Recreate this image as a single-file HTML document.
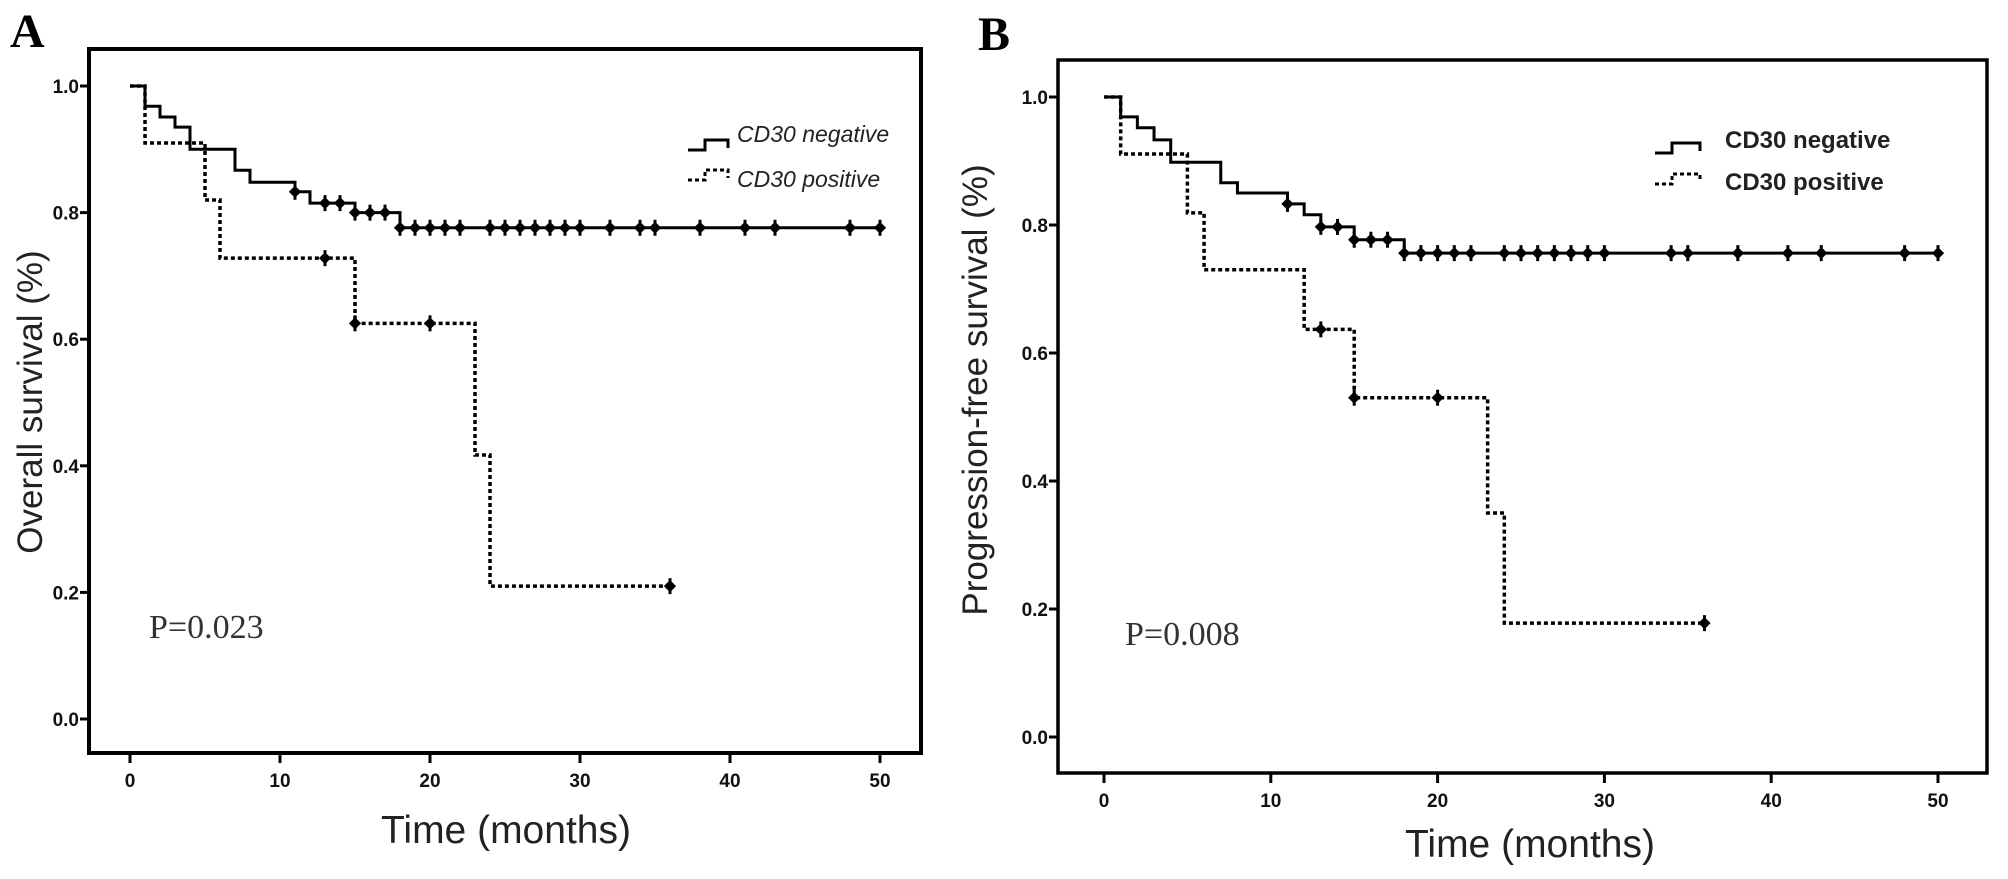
<!DOCTYPE html>
<html><head><meta charset="utf-8"><style>
html,body{margin:0;padding:0;background:#fff;}
svg{display:block;}
</style></head><body>
<svg id="fig" width="2008" height="879" viewBox="0 0 2008 879" xmlns="http://www.w3.org/2000/svg">
<rect x="0" y="0" width="2008" height="879" fill="#fff"/>
</svg>
<script>
// ---- Panel A data (Overall survival) ----
const aNegTimes = [0,1,2,3,4,7,8,11,12,15,18,50];
const aNegSurv  = [1.0,0.968,0.951,0.935,0.9,0.867,0.848,0.833,0.815,0.8,0.776,0.776];
const aNegCens  = [11,13,14,15,16,17,18,19,20,21,22,24,25,26,27,28,29,30,32,34,35,38,41,43,48,50];
const aPosTimes = [0,1,5,6,15,23,24,36];
const aPosSurv  = [1.0,0.91,0.82,0.728,0.625,0.417,0.21,0.21];
const aPosCens  = [13,15,20,36];
// ---- Panel B data (Progression-free survival) ----
const bNegTimes = [0,1,2,3,4,7,8,11,12,13,15,18,50];
const bNegSurv  = [1.0,0.969,0.952,0.933,0.898,0.866,0.85,0.833,0.816,0.797,0.777,0.756,0.756];
const bNegCens  = [11,13,14,15,16,17,18,19,20,21,22,24,25,26,27,28,29,30,34,35,38,41,43,48,50];
const bPosTimes = [0,1,5,6,12,15,23,24,36];
const bPosSurv  = [1.0,0.911,0.819,0.73,0.637,0.53,0.35,0.178,0.178];
const bPosCens  = [13,15,20,36];
const xTicks = [0,10,20,30,40,50];
const yTicks = [0,0.2,0.4,0.6,0.8,1.0];
const yTickLabels = ["0.0","0.2","0.4","0.6","0.8","1.0"];

const NS="http://www.w3.org/2000/svg";
const svg=document.getElementById('fig');
function mk(tag,attrs,parent){const e=document.createElementNS(NS,tag);for(const k in attrs)e.setAttribute(k,attrs[k]);(parent||svg).appendChild(e);return e;}
function txt(s,attrs,parent){const t=mk('text',attrs,parent);t.textContent=s;return t;}

function stepPath(xs,ys,X,Y){
  let d='M'+X(xs[0])+','+Y(ys[0]);
  for(let i=1;i<xs.length;i++){d+=' H'+X(xs[i])+' V'+Y(ys[i]);}
  return d;
}
function survAt(xs,ys,t){let v=ys[0];for(let i=0;i<xs.length;i++){if(xs[i]<=t)v=ys[i];}return v;}

function panel(cfg){
  const g=mk('g',{});
  
  
  const X=t=>cfg.x0+(cfg.x50-cfg.x0)*t/50;
  const Y=v=>cfg.y0+(cfg.y1-cfg.y0)*v;
  const frame=mk('rect',{x:cfg.fl,y:cfg.ft,width:cfg.fr-cfg.fl,height:cfg.fb-cfg.ft,fill:'none',stroke:'#000','stroke-width':cfg.fw},g);
  
  
  // ticks
  yTicks.forEach((v,i)=>{
    const l=mk('line',{x1:cfg.fl-9,x2:cfg.fl,y1:Y(v),y2:Y(v),stroke:'#000','stroke-width':3},g);
    
    
    const t=txt(yTickLabels[i],{x:cfg.fl-10,y:Y(v)+7,'text-anchor':'end','font-family':'Liberation Sans, sans-serif','font-weight':'bold','font-size':19,fill:'#111'},g);
    
    
  });
  xTicks.forEach(v=>{
    const l=mk('line',{x1:X(v),x2:X(v),y1:cfg.fb,y2:cfg.fb+10,stroke:'#000','stroke-width':3},g);
    
    
    const t=txt(String(v),{x:X(v),y:cfg.fb+34,'text-anchor':'middle','font-family':'Liberation Sans, sans-serif','font-weight':'bold','font-size':19,fill:'#111'},g);
    
    
  });
  // curves
  const pn=mk('path',{d:stepPath(cfg.negT,cfg.negS,X,Y),fill:'none',stroke:'#000','stroke-width':3},g);
  
  
  const pp=mk('path',{d:stepPath(cfg.posT,cfg.posS,X,Y),fill:'none',stroke:'#000','stroke-width':3.5,'stroke-dasharray':'4 3'},g);
  
  
  function cens(list,xs,ys,nm){
    list.forEach(t=>{
      const cx=X(t),cy=Y(survAt(xs,ys,t));
      const c=mk('path',{d:`M${cx},${cy-8} V${cy+8} M${cx-4},${cy} L${cx},${cy-4} L${cx+4},${cy} L${cx},${cy+4} Z`,stroke:'#000','stroke-width':3,fill:'#000'},g);
      
      
    });
  }
  cens(cfg.negC,cfg.negT,cfg.negS,'censor-mark-negative');
  cens(cfg.posC,cfg.posT,cfg.posS,'censor-mark-positive');
  // legend
  const L=cfg.leg;
  const li1=mk('path',{d:`M${L.x},${L.y1} H${L.x+17} V${L.y1-10} H${L.x+L.w} V${L.y1-2}`,fill:'none',stroke:'#000','stroke-width':3},g);
  
  
  const li2=mk('path',{d:`M${L.x},${L.y2} H${L.x+17} V${L.y2-10} H${L.x+L.w} V${L.y2-2}`,fill:'none',stroke:'#000','stroke-width':3,'stroke-dasharray':'4 3'},g);
  
  
  const lt1=txt('CD30 negative',{x:L.tx,y:L.b1,'font-family':'Liberation Sans, sans-serif','font-size':L.fs,'font-style':L.style,'font-weight':L.weight,fill:'#222'},g);
  
  
  const lt2=txt('CD30 positive',{x:L.tx,y:L.b2,'font-family':'Liberation Sans, sans-serif','font-size':L.fs,'font-style':L.style,'font-weight':L.weight,fill:'#222'},g);
  
  
  // titles
  const yt=txt(cfg.ytitle,{x:0,y:0,transform:`translate(${cfg.ytx},${cfg.yty}) rotate(-90)`,'text-anchor':'middle','font-family':'Liberation Sans, sans-serif','font-size':35,fill:'#222'},g);
  
  
  const xt=txt('Time (months)',{x:cfg.xtx,y:cfg.xty,'text-anchor':'middle','font-family':'Liberation Sans, sans-serif','font-size':39,fill:'#222'},g);
  
  
  const pv=txt(cfg.p,{x:cfg.px,y:cfg.py,'font-family':'Liberation Serif, serif','font-size':34,fill:'#333'},g);
  
  
  const pl=txt(cfg.label,{x:cfg.lx,y:cfg.ly,'font-family':'Liberation Serif, serif','font-weight':'bold','font-size':48,fill:'#000'},g);
  
  
}

panel({name:'panel-a-overall-survival',x0:130,x50:880,y0:719,y1:86,fl:89,fr:921,ft:49,fb:753,fw:4,
  negT:aNegTimes,negS:aNegSurv,negC:aNegCens,posT:aPosTimes,posS:aPosSurv,posC:aPosCens,
  leg:{x:688,w:40,y1:150,y2:180,tx:737,b1:142,b2:187,fs:23,style:'italic',weight:'normal'},
  ytitle:'Overall survival (%)',ytx:42,yty:402,xtx:506,xty:843,p:'P=0.023',px:149,py:638,label:'A',lx:10,ly:47});
panel({name:'panel-b-progression-free-survival',x0:1104,x50:1938,y0:737,y1:97,fl:1058,fr:1987,ft:60,fb:773,fw:3.5,
  negT:bNegTimes,negS:bNegSurv,negC:bNegCens,posT:bPosTimes,posS:bPosSurv,posC:bPosCens,
  leg:{x:1655,w:45,y1:153,y2:184,tx:1725,b1:148,b2:190,fs:24,style:'normal',weight:'bold'},
  ytitle:'Progression-free survival (%)',ytx:987,yty:390,xtx:1530,xty:857,p:'P=0.008',px:1125,py:645,label:'B',lx:978,ly:50});
</script>
</body></html>
